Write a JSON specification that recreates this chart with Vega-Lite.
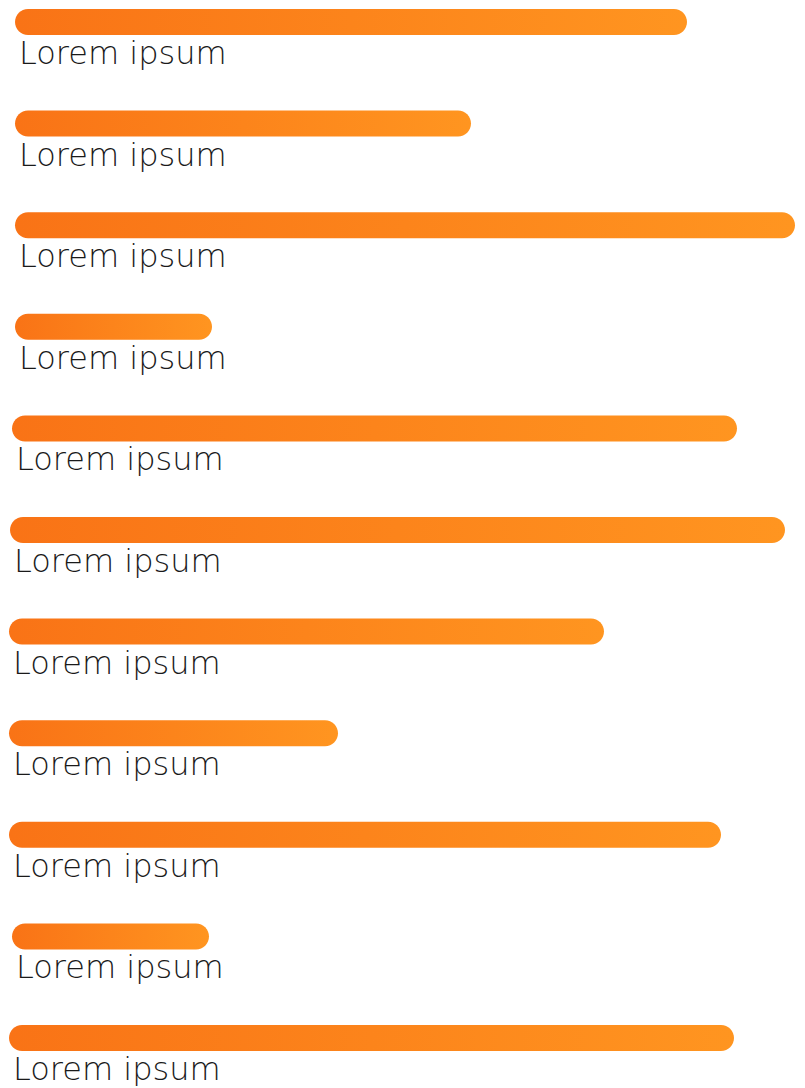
{
  "$schema": "https://vega.github.io/schema/vega-lite/v6.json",
  "width": 805,
  "height": 1088,
  "padding": 0,
  "autosize": {"type": "fit", "contains": "padding"},
  "background": "white",
  "config": {"view": {"stroke": null}},
  "data": {"values": [
    {"item": 1, "label": "Lorem ipsum", "start": 15, "end": 687},
    {"item": 2, "label": "Lorem ipsum", "start": 15, "end": 471},
    {"item": 3, "label": "Lorem ipsum", "start": 15, "end": 795},
    {"item": 4, "label": "Lorem ipsum", "start": 15, "end": 212},
    {"item": 5, "label": "Lorem ipsum", "start": 12, "end": 737},
    {"item": 6, "label": "Lorem ipsum", "start": 10, "end": 785},
    {"item": 7, "label": "Lorem ipsum", "start": 9, "end": 604},
    {"item": 8, "label": "Lorem ipsum", "start": 9, "end": 338},
    {"item": 9, "label": "Lorem ipsum", "start": 9, "end": 721},
    {"item": 10, "label": "Lorem ipsum", "start": 12, "end": 209},
    {"item": 11, "label": "Lorem ipsum", "start": 9, "end": 734}
  ]},
  "encoding": {
    "y": {"field": "item", "type": "ordinal", "axis": null,
          "scale": {"type": "point", "range": [22, 1038], "padding": 0}}
  },
  "layer": [
    {
      "mark": {"type": "bar", "size": 26, "cornerRadius": 13,
        "color": {"gradient": "linear", "x1": 0, "x2": 1, "y1": 0, "y2": 0,
          "stops": [{"offset": 0, "color": "#F97316"}, {"offset": 1, "color": "#FF9520"}]}},
      "encoding": {
        "x": {"field": "start", "type": "quantitative", "axis": null, "scale": {"domain": [0, 805], "nice": false, "zero": false}},
        "x2": {"field": "end"}
      }
    },
    {
      "mark": {"type": "text", "align": "left", "baseline": "middle", "dx": 4, "dy": 32,
        "font": "DejaVu Sans", "fontWeight": 200, "fontSize": 32, "color": "#1a1a1a"},
      "encoding": {
        "x": {"field": "start", "type": "quantitative"},
        "text": {"field": "label"}
      }
    }
  ]
}
